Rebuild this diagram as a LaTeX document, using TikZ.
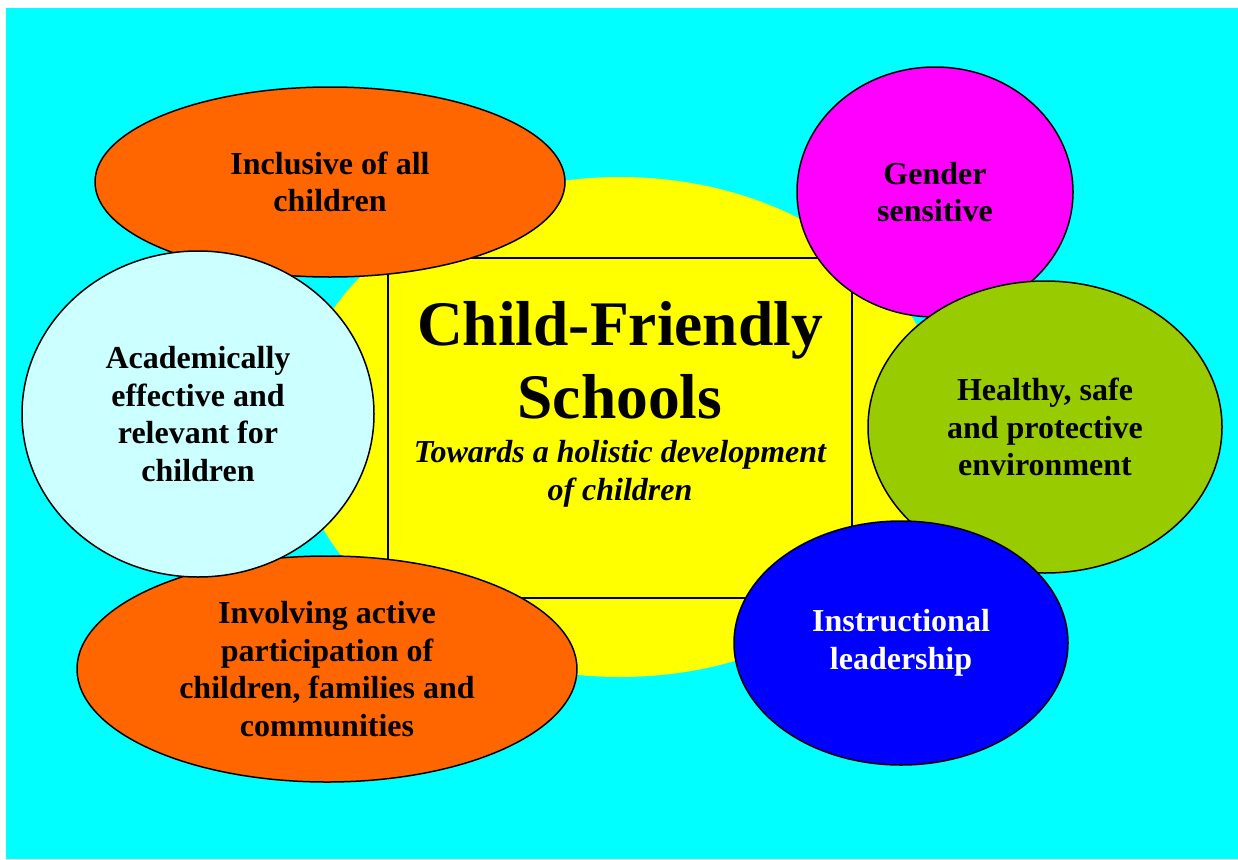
\documentclass[tikz,border=0pt]{standalone}
\usepackage{fontspec}
\setmainfont{Liberation Serif}
\usepackage{xcolor}
\usepackage{tikz}
\usetikzlibrary{shapes.geometric,positioning}

\definecolor{aqua}{rgb}{0,1,1}
\definecolor{lemon}{rgb}{1,1,0}
\definecolor{fuchsia}{rgb}{1,0,1}
\definecolor{royal}{rgb}{0,0,1}
\definecolor{flame}{HTML}{FF6600}
\definecolor{palecyan}{HTML}{CCFFFF}
\definecolor{leafgreen}{HTML}{99CC00}

\begin{document}
\begin{tikzpicture}[
  x=1pt, y=-1pt,
  bubble/.style={
    ellipse, draw, line width=1.5pt, inner sep=0pt,
    align=center,
    font=\fontsize{32}{37.5}\selectfont\bfseries
  },
  heading/.style={
    align=center,
    font=\fontsize{63.5}{73}\selectfont\bfseries
  },
  tagline/.style={
    align=center,
    font=\fontsize{32}{38.5}\selectfont\bfseries\itshape
  }]

% canvas
\useasboundingbox (0,0) rectangle (1238,859);
\fill[aqua] (6,8) rectangle (1238,859);

% yellow backdrop with the framed centre
\node[ellipse, fill=lemon, inner sep=0pt,
  minimum width=650, minimum height=500] (halo) at (620,427) {};
\node[draw, fill=lemon, line width=1.5pt, inner sep=0pt,
  minimum width=464, minimum height=340] (frame) at (620,428) {};

\node[heading] (title) at (620,360) {Child-Friendly\\Schools};
\node[tagline, below = 14pt of title] (subtitle)
  {Towards a holistic development\\of children};

% the six qualities around it
\node[bubble, fill=flame, minimum width=470, minimum height=190]
  (inclusive) at (330,182) {Inclusive of all\\children};
\node[bubble, fill=flame, minimum width=500, minimum height=226]
  (involving) at (327,669)
  {Involving active\\participation of\\children, families and\\communities};
\node[bubble, fill=palecyan, minimum width=352, minimum height=326]
  (academic) at (198,414)
  {Academically\\effective and\\relevant for\\children};
\node[bubble, fill=fuchsia, minimum width=276, minimum height=250]
  (gender) at (935,192) {Gender\\sensitive};
\node[bubble, fill=leafgreen, minimum width=354, minimum height=292]
  (healthy) at (1045,427) {Healthy, safe\\and protective\\environment};
\node[bubble, fill=royal, text=white, minimum width=334, minimum height=244]
  (leadership) at (901,643) {Instructional\\leadership};

\end{tikzpicture}
\end{document}
